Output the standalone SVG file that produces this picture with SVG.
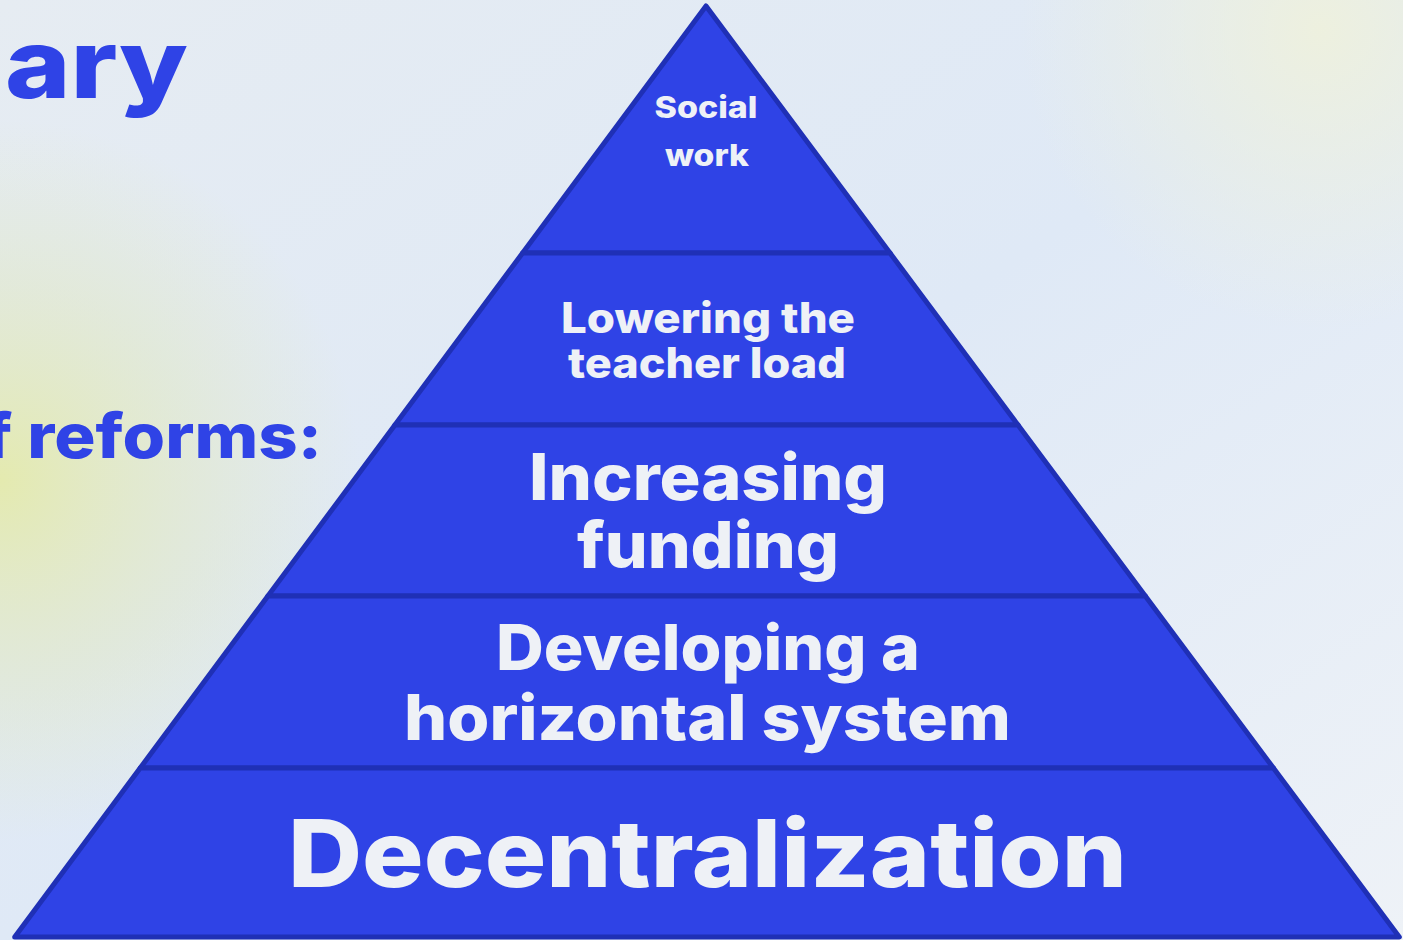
<svg xmlns="http://www.w3.org/2000/svg" width="1403" height="940" viewBox="0 0 1403 940">
<defs>
<linearGradient id="bg" x1="0" y1="0" x2="1" y2="1">
<stop offset="0" stop-color="#e6ecf2"/>
<stop offset="0.5" stop-color="#dfe9f6"/>
<stop offset="1" stop-color="#eef2f7"/>
</linearGradient>
<radialGradient id="yl" cx="0" cy="480" r="360" gradientUnits="userSpaceOnUse">
<stop offset="0" stop-color="#e4eaaf" stop-opacity="1"/>
<stop offset="0.55" stop-color="#e1e8c6" stop-opacity="0.55"/>
<stop offset="1" stop-color="#e3e9c8" stop-opacity="0"/>
</radialGradient>
<radialGradient id="yr" cx="1320" cy="30" r="300" gradientUnits="userSpaceOnUse">
<stop offset="0" stop-color="#eff1dc" stop-opacity="0.9"/>
<stop offset="1" stop-color="#eff1dc" stop-opacity="0"/>
</radialGradient>
<style>
.band{fill:#2f43e6;stroke:#1f30b6;stroke-width:5;stroke-linejoin:round}
.lbl{font-family:Inter,"Liberation Sans",sans-serif;font-weight:800;fill:#eef1f6;text-anchor:middle}
.head{font-family:Inter,"Liberation Sans",sans-serif;font-weight:800;fill:#2f43e6}
</style>
</defs>
<rect width="1403" height="940" fill="url(#bg)"/>
<rect width="1403" height="940" fill="url(#yl)"/>
<rect width="1403" height="940" fill="url(#yr)"/>
<g id="title">
<text class="head" x="5" y="98" font-size="96" textLength="183" lengthAdjust="spacingAndGlyphs">ary</text>
<text class="head" x="-16" y="458" font-size="62" textLength="338" lengthAdjust="spacingAndGlyphs">f reforms:</text>
</g>
<g id="band-social-work">
<polygon class="band" points="706,6 890,253 522.6,253"/>
<text class="lbl" x="706" y="118" font-size="30" textLength="103" lengthAdjust="spacingAndGlyphs">Social</text>
<text class="lbl" x="707" y="166" font-size="30" textLength="84" lengthAdjust="spacingAndGlyphs">work</text>
</g>
<g id="band-teacher-load">
<polygon class="band" points="522.6,253 890,253 1018,425 394.9,425"/>
<text class="lbl" x="708" y="333" font-size="42" textLength="294" lengthAdjust="spacingAndGlyphs">Lowering the</text>
<text class="lbl" x="707" y="378" font-size="42" textLength="278" lengthAdjust="spacingAndGlyphs">teacher load</text>
</g>
<g id="band-funding">
<polygon class="band" points="394.9,425 1018,425 1145.3,596 267.9,596"/>
<text class="lbl" x="708" y="500" font-size="64" textLength="358" lengthAdjust="spacingAndGlyphs">Increasing</text>
<text class="lbl" x="708" y="568" font-size="64" textLength="262" lengthAdjust="spacingAndGlyphs">funding</text>
</g>
<g id="band-horizontal">
<polygon class="band" points="267.9,596 1145.3,596 1273.4,768 140.2,768"/>
<text class="lbl" x="708" y="670" font-size="63" textLength="424" lengthAdjust="spacingAndGlyphs">Developing a</text>
<text class="lbl" x="707.5" y="740" font-size="63" textLength="607" lengthAdjust="spacingAndGlyphs">horizontal system</text>
</g>
<g id="band-decentralization">
<polygon class="band" points="140.2,768 1273.4,768 1399.3,937 14.7,937"/>
<text class="lbl" x="707.5" y="887" font-size="93" textLength="839" lengthAdjust="spacingAndGlyphs">Decentralization</text>
</g>
</svg>
